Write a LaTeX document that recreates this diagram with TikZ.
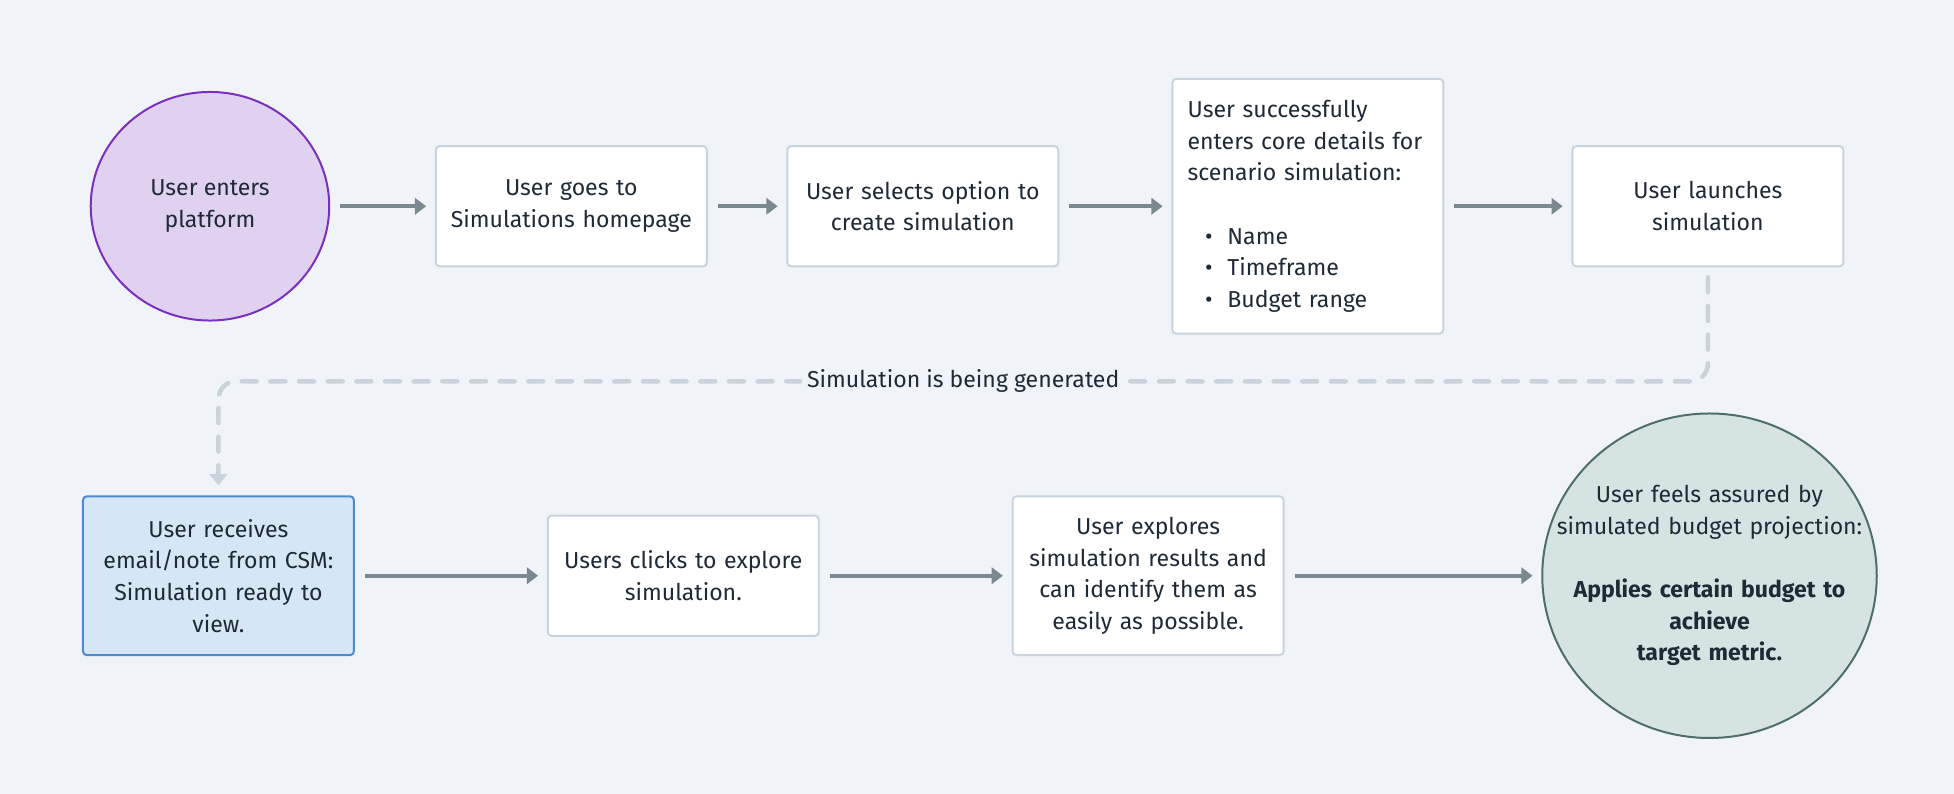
\documentclass[tikz,border=0pt]{standalone}
\usepackage{fontspec}
\setmainfont{Fira Sans}
\usetikzlibrary{arrows.meta, shapes.geometric, positioning}
\definecolor{bgc}{HTML}{F0F4F8}
\definecolor{ink}{HTML}{1F2A37}
\definecolor{boxline}{HTML}{C9D3DB}
\definecolor{flowc}{HTML}{7A8890}
\definecolor{waitc}{HTML}{CAD3DA}
\definecolor{lilac}{HTML}{E1D1F0}
\definecolor{purple}{HTML}{7A2FBF}
\definecolor{mailfill}{HTML}{D6E6F5}
\definecolor{mailline}{HTML}{4A8BD6}
\definecolor{sage}{HTML}{D5E4E2}
\definecolor{sageline}{HTML}{4E6E69}
\tikzset{%
>={Triangle[width=13pt,length=9pt]},
  % Specifications for style of nodes:
            base/.style = {rectangle, rounded corners=3pt, draw=boxline,
                            line width=1.6pt, fill=white, minimum width=217.4pt,
                            minimum height=96.4pt, text width=207pt, align=center,
                            text=ink, font=\fontsize{18.5}{25.4}\selectfont},
            start/.style = {ellipse, draw=purple, fill=lilac, line width=1.6pt,
                            minimum width=191.4pt, minimum height=183.4pt, inner sep=0pt,
                            align=center, text=ink, font=\fontsize{18.5}{25.4}\selectfont},
            mail/.style = {base, draw=mailline, fill=mailfill, minimum height=127.4pt},
            finish/.style = {ellipse, draw=sageline, fill=sage, line width=1.6pt,
                            minimum width=268.4pt, minimum height=260.4pt, inner sep=0pt},
            words/.style = {text width=262pt, align=center, text=ink,
                            font=\fontsize{18.5}{25.4}\selectfont},
            note/.style = {fill=bgc, inner xsep=4pt, inner ysep=2pt, text=ink,
                            font=\fontsize{18.5}{25.4}\selectfont},
            flow/.style = {->, draw=flowc, line width=3.2pt, shorten <=8pt, shorten >=7pt},
            wait/.style = {-{Triangle[width=14pt,length=9pt]}, draw=waitc, line width=3.6pt,
                            dash pattern=on 12pt off 11pt, line cap=round,
                            rounded corners=14pt, shorten <=8pt, shorten >=8pt}
}
\begin{document}
\begin{tikzpicture}[x=1pt, y=-1pt, node distance=63pt]
                        \fill[bgc] (0,0) rectangle (1568,637);
                        \useasboundingbox (0,0) rectangle (1568,637);
                        % first row
                        \node (1)[start] at (168.5,165.5){User enters\\platform};
                        \node (2)[base, right=84pt of 1]{User goes to\\Simulations homepage};
                        \node (3)[base, right=of 2]{User selects option to\\create simulation};
                        \node (4)[base, minimum height=204.4pt, text width=193pt, align=left,
                                  right=90pt of 3]{User successfully\\enters core details for\\scenario simulation:\\[25.4pt]
                                  \hspace*{14pt}\textbullet\hspace{12pt}Name\\
                                  \hspace*{14pt}\textbullet\hspace{12pt}Timeframe\\
                                  \hspace*{14pt}\textbullet\hspace{12pt}Budget range};
                        \node (5)[base, right=102pt of 4]{User launches\\simulation};
                        % second row
                        \node (6)[mail] at (175.3,462){User receives\\email/note from CSM:\\Simulation ready to\\view.};
                        \node (7)[base, right=154pt of 6]{Users clicks to explore\\simulation.};
                        \node (8)[base, minimum height=127.4pt, right=154pt of 7]{User explores\\simulation results and\\can identify them as\\easily as possible.};
                        \node (9)[finish, right=206pt of 8]{};
                        \node (9t)[words] at (9){User feels assured by\\simulated budget projection:\\[25.4pt]
                                  \textbf{Applies certain budget to}\\\textbf{achieve}\\\textbf{target metric.}};
                        \draw[flow] (1)--(2);
                        \draw[flow] (2)--(3);
                        \draw[flow] (3)--(4);
                        \draw[flow] (4)--(5);
                        \draw[wait] (5.south) -- ++(0,91.5) coordinate (turn)
                              -- node[note] (gen){Simulation is being generated} (turn -| 6.north)
                              -- (6.north);
                        \draw[flow] (6)--(7);
                        \draw[flow] (7)--(8);
                        \draw[flow] (8)--(9);
                    \end{tikzpicture}
\end{document}
